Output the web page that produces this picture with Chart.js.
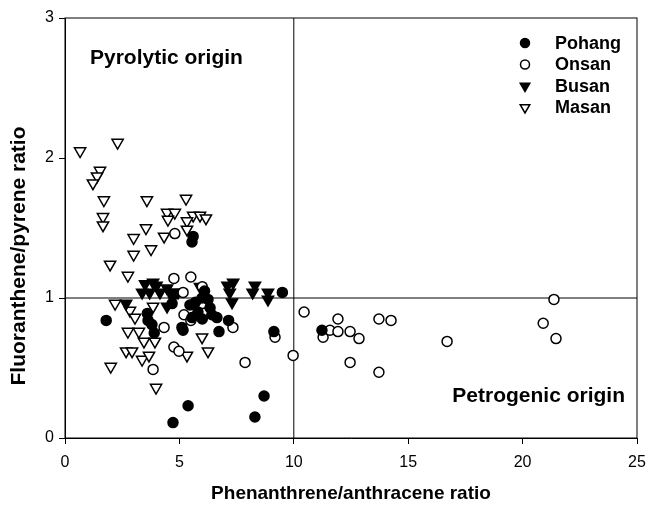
<!DOCTYPE html>
<html>
<head>
<meta charset="utf-8">
<script src="https://cdn.jsdelivr.net/npm/chart.js@4.4.1/dist/chart.umd.min.js"></script>
<style>
  html, body { margin: 0; padding: 0; background: #fff; }
  canvas { display: block; }
</style>
</head>
<body>
<canvas id="chart" width="647" height="506"></canvas>
<script>
// ---------- data ----------
const pohangX = [1.8, 5.6, 5.55, 5.38, 4.72, 8.7, 8.3, 5.16, 6.73, 7.15, 9.13, 9.5, 3.63, 3.8, 3.9, 3.6, 11.23, 4.72, 4.68, 5.11, 5.46, 5.55, 5.99, 6.25, 6.34, 6.42, 5.81, 6.64, 6.1, 5.7, 6.0];
const pohangY = [0.84, 1.44, 1.40, 0.23, 0.11, 0.30, 0.15, 0.77, 0.76, 0.84, 0.76, 1.04, 0.84, 0.81, 0.75, 0.89, 0.77, 1.02, 0.96, 0.79, 0.95, 0.86, 1.00, 0.99, 0.93, 0.88, 0.90, 0.86, 1.05, 0.97, 0.85];

const onsanX = [4.8, 4.76, 5.5, 6.0, 5.16, 5.2, 5.5, 4.33, 7.34, 4.76, 4.98, 3.85, 7.87, 6.0, 9.18, 9.97, 10.45, 11.28, 11.58, 11.93, 11.93, 12.46, 12.85, 12.46, 13.72, 14.25, 13.72, 16.7, 20.9, 21.37, 21.46];
const onsanY = [1.46, 1.14, 1.15, 1.08, 1.04, 0.88, 0.84, 0.79, 0.79, 0.65, 0.62, 0.49, 0.54, 0.96, 0.72, 0.59, 0.90, 0.72, 0.77, 0.85, 0.76, 0.76, 0.71, 0.54, 0.85, 0.84, 0.47, 0.69, 0.82, 0.99, 0.71];

const busanX = [2.67, 3.37, 3.5, 3.7, 3.85, 4.0, 4.15, 4.46, 4.68, 4.94, 4.46, 7.1, 7.2, 7.35, 7.3, 8.2, 8.3, 8.87, 8.87, 5.9];
const busanY = [0.96, 1.04, 1.10, 1.04, 1.11, 1.09, 1.04, 1.07, 1.04, 1.04, 0.94, 1.09, 1.04, 1.11, 0.97, 1.04, 1.09, 1.04, 0.99, 1.08];

const masanX = [0.66, 2.3, 1.53, 1.4, 1.22, 1.7, 1.66, 1.66, 3.58, 5.29, 4.46, 4.8, 4.5, 5.6, 5.9, 6.16, 5.33, 5.33, 3.54, 4.33, 3.0, 3.0, 3.76, 1.97, 2.75, 2.19, 2.84, 3.06, 2.75, 3.23, 3.45, 3.93, 2.67, 2.93, 3.37, 3.67, 2.0, 3.98, 5.99, 6.25, 5.33, 3.85];
const masanY = [2.05, 2.11, 1.91, 1.87, 1.82, 1.70, 1.58, 1.52, 1.70, 1.71, 1.61, 1.61, 1.56, 1.59, 1.59, 1.57, 1.55, 1.49, 1.50, 1.44, 1.43, 1.31, 1.35, 1.24, 1.16, 0.96, 0.91, 0.86, 0.76, 0.76, 0.69, 0.69, 0.62, 0.62, 0.56, 0.59, 0.51, 0.36, 0.72, 0.62, 0.59, 0.94];

const seriesNames = ["Pohang", "Onsan", "Busan", "Masan"];
const xRange = [0, 25];
const yRange = [0, 3];
const splitX = 10; // vertical divider
const splitY = 1;  // horizontal divider
const quadrantLabels = ["Pyrolytic origin", "Petrogenic origin"];
const xTitle = "Phenanthrene/anthracene ratio";
const yTitle = "Fluoranthene/pyrene ratio";

// ---------- helpers ----------
const pts = (xs, ys) => xs.map((x, i) => ({ x, y: ys[i] }));
const FONT = "'Liberation Sans', Arial, Helvetica, sans-serif";

const STYLE = {
  Pohang: { shape: "circle", fill: "#000" },
  Onsan: { shape: "circle", fill: "#fff" },
  Busan: { shape: "triangle", fill: "#000" },
  Masan: { shape: "triangle", fill: "#fff" },
};

function scatterSet(name, xs, ys) {
  const s = STYLE[name];
  return {
    label: name,
    data: pts(xs, ys),
    pointStyle: s.shape,
    pointRotation: s.shape === "triangle" ? 180 : 0,
    pointRadius: s.shape === "triangle" ? 6.5 : 5,
    pointBackgroundColor: s.fill,
    pointBorderColor: "#000",
    pointBorderWidth: 1.5,
    showLine: false,
  };
}

function marker(ctx, shape, fill, x, y, r) {
  ctx.beginPath();
  if (shape === "circle") {
    ctx.arc(x, y, r, 0, Math.PI * 2);
  } else {
    ctx.moveTo(x - r * 0.87, y - r * 0.5);
    ctx.lineTo(x + r * 0.87, y - r * 0.5);
    ctx.lineTo(x, y + r);
    ctx.closePath();
  }
  ctx.fillStyle = fill;
  ctx.fill();
  ctx.lineWidth = 1.5;
  ctx.strokeStyle = "#000";
  ctx.stroke();
}

// frame, texts and legend drawn over the plot
const overlay = {
  id: "overlay",
  afterDraw(chart) {
    const { ctx, chartArea: a } = chart;
    ctx.save();
    ctx.strokeStyle = "#000";
    ctx.lineWidth = 1;
    ctx.strokeRect(a.left, a.top, a.right - a.left, a.bottom - a.top);

    ctx.fillStyle = "#000";
    ctx.font = "bold 21px " + FONT;
    ctx.textBaseline = "alphabetic";
    ctx.textAlign = "left";
    ctx.fillText(quadrantLabels[0], a.left + 25, a.top + 46);
    ctx.textAlign = "right";
    ctx.fillText(quadrantLabels[1], a.right - 12, a.bottom - 36);

    // legend
    ctx.font = "bold 18px " + FONT;
    ctx.textAlign = "left";
    ctx.textBaseline = "middle";
    seriesNames.forEach((n, i) => {
      const y = a.top + 25 + i * 21.5;
      const s = STYLE[n];
      marker(ctx, s.shape, s.fill, a.right - 112, y, s.shape === "circle" ? 4.5 : 5.5);
      ctx.fillStyle = "#000";
      ctx.fillText(n, a.right - 82, y + 1);
    });

    // y axis title
    ctx.save();
    ctx.translate(19, 256);
    ctx.rotate(-Math.PI / 2);
    ctx.textAlign = "center";
    ctx.textBaseline = "middle";
    ctx.font = "bold 21px " + FONT;
    ctx.fillText(yTitle, 0, 0);
    ctx.restore();
    ctx.restore();
  },
};

new Chart(document.getElementById("chart"), {
  type: "scatter",
  data: {
    datasets: [
      scatterSet("Pohang", pohangX, pohangY),
      scatterSet("Onsan", onsanX, onsanY),
      scatterSet("Busan", busanX, busanY),
      scatterSet("Masan", masanX, masanY),
      {
        label: "divX",
        type: "line",
        data: [{ x: splitX, y: yRange[0] }, { x: splitX, y: yRange[1] }],
        borderColor: "#000",
        borderWidth: 1,
        pointRadius: 0,
        order: 5,
      },
      {
        label: "divY",
        type: "line",
        data: [{ x: xRange[0], y: splitY }, { x: xRange[1], y: splitY }],
        borderColor: "#000",
        borderWidth: 1,
        pointRadius: 0,
        order: 5,
      },
    ],
  },
  options: {
    responsive: false,
    animation: false,
    layout: { padding: { left: 0, right: 10, top: 18, bottom: 0 } },
    plugins: { legend: { display: false }, tooltip: { enabled: false } },
    scales: {
      x: {
        type: "linear",
        min: xRange[0],
        max: xRange[1],
        ticks: { stepSize: 5, color: "#000", font: { family: FONT, size: 16 }, padding: 9 },
        grid: { drawOnChartArea: false, color: "#000", tickLength: 6 },
        border: { color: "#000" },
        title: { display: true, text: xTitle, color: "#000", font: { family: FONT, size: 19, weight: "bold" }, padding: { bottom: 1 } },
        afterFit: (s) => {
          s.height = 68;
          s.paddingLeft = 0;
          s.paddingRight = 0;
        },
      },
      y: {
        type: "linear",
        min: yRange[0],
        max: yRange[1],
        ticks: { stepSize: 1, color: "#000", font: { family: FONT, size: 16 }, padding: 5 },
        grid: { drawOnChartArea: false, color: "#000", tickLength: 6 },
        border: { color: "#000" },
        afterFit: (s) => { s.width = 65; },
      },
    },
  },
  plugins: [overlay],
});
</script>
</body>
</html>
